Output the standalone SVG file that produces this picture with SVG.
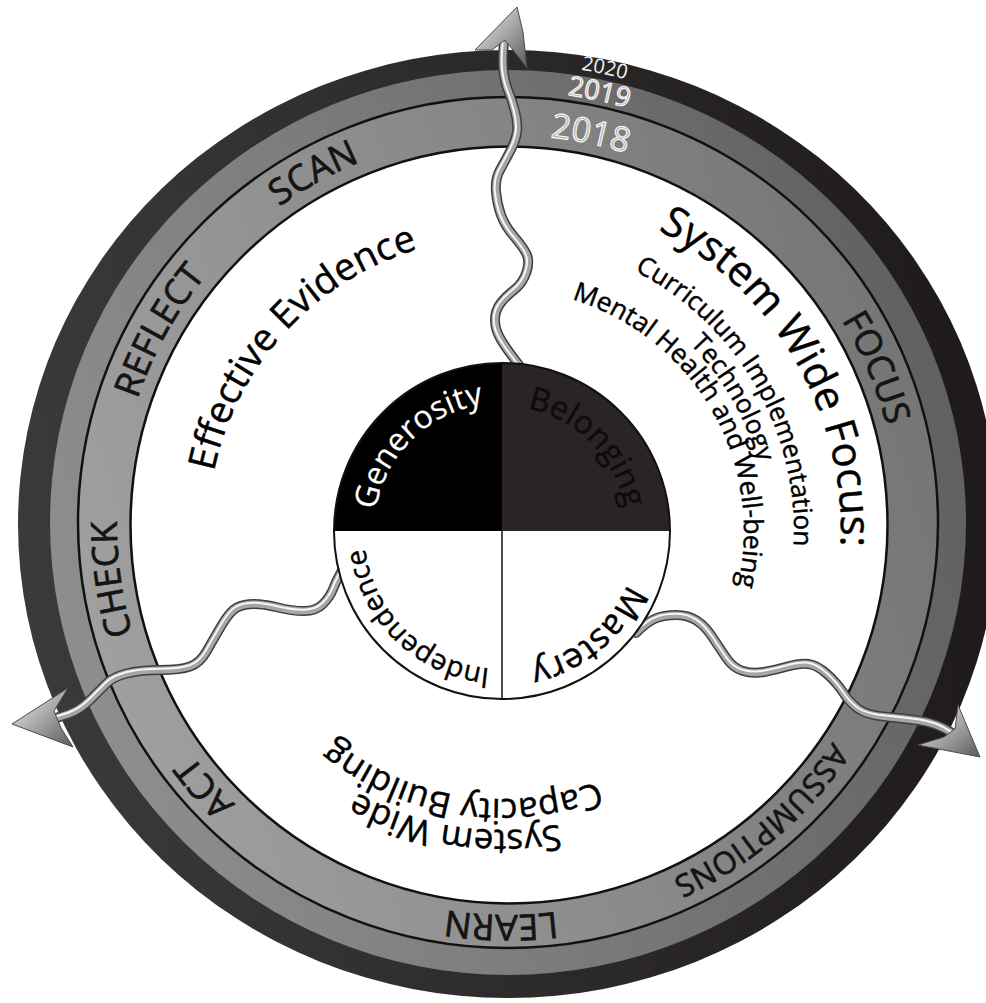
<svg xmlns="http://www.w3.org/2000/svg" width="986" height="1003" viewBox="0 0 986 1003">
<style>
.lbl{font-family:"Open Sans","Liberation Sans",sans-serif;font-size:36px;fill:#141414;stroke:#141414;stroke-width:0.7;text-anchor:middle}
.yr{font-family:"Open Sans","Liberation Sans",sans-serif;text-anchor:middle;fill:#b4b4b4;stroke:#ffffff;stroke-width:1}
.in{font-family:"Open Sans","Liberation Sans",sans-serif;text-anchor:middle;fill:#000;stroke:#000;stroke-width:0.45}
.w1{fill:none;stroke:#3e3e3e;stroke-width:10;stroke-linecap:round;stroke-linejoin:round}
.w2{fill:none;stroke:#a6a6a6;stroke-width:7;stroke-linecap:round;stroke-linejoin:round}
.w3{fill:none;stroke:#f6f6f6;stroke-width:2;stroke-linecap:round;stroke-linejoin:round}
.head{fill:url(#gHead);stroke:#4a4a4a;stroke-width:1;stroke-linejoin:round}
</style>
<defs>
<linearGradient id="gDark" x1="0" y1="0.5" x2="1" y2="0.4">
<stop offset="0" stop-color="#3b3939"/><stop offset="1" stop-color="#1e1a1b"/>
</linearGradient>
<linearGradient id="gMid" x1="0" y1="0.6" x2="1" y2="0.3">
<stop offset="0" stop-color="#8e8e8e"/><stop offset="1" stop-color="#5f5f5f"/>
</linearGradient>
<linearGradient id="gBand" x1="0" y1="0.6" x2="1" y2="0.3">
<stop offset="0" stop-color="#a0a0a0"/><stop offset="1" stop-color="#747474"/>
</linearGradient>
<linearGradient id="gHead" x1="0" y1="0" x2="1" y2="1">
<stop offset="0" stop-color="#f4f4f4"/><stop offset="0.5" stop-color="#a8a8a8"/><stop offset="1" stop-color="#5a5a5a"/>
</linearGradient>
<path id="pRing" d="M508,133 A391,391 0 1 1 508,915 A391,391 0 1 1 508,133"/>
<path id="p2018" d="M508,135 A389,389 0 1 1 508,913 A389,389 0 1 1 508,135"/>
<path id="p2019" d="M508,91 A433,433 0 1 1 508,957 A433,433 0 1 1 508,91"/>
<path id="p2020" d="M508,64 A460,460 0 1 1 508,984 A460,460 0 1 1 508,64"/>
<path id="pEff" d="M502,237 A294,294 0 1 1 502,825 A294,294 0 1 1 502,237"/>
<path id="pSWF" d="M502,192 A339,339 0 1 1 502,870 A339,339 0 1 1 502,192"/>
<path id="pCur" d="M502,239 A292,292 0 1 1 502,823 A292,292 0 1 1 502,239"/>
<path id="pTec" d="M502,266 A265,265 0 1 1 502,796 A265,265 0 1 1 502,266"/>
<path id="pMen" d="M502,289 A242,242 0 1 1 502,773 A242,242 0 1 1 502,289"/>
<path id="pSW" d="M502,232 A299,299 0 1 1 502,830 A299,299 0 1 1 502,232"/>
<path id="pCap" d="M502,263 A268,268 0 1 1 502,799 A268,268 0 1 1 502,263"/>
<path id="pGen" d="M502,403 A128,128 0 1 1 502,659 A128,128 0 1 1 502,403"/>
<path id="pBel" d="M502,406 A125,125 0 1 1 502,656 A125,125 0 1 1 502,406"/>
<path id="pMas" d="M502,395 A136,136 0 1 1 502,667 A136,136 0 1 1 502,395"/>
<path id="pInd" d="M502,393 A138,138 0 1 1 502,669 A138,138 0 1 1 502,393"/>
<path id="wTop" d="M519,365 Q505,347 500,338 Q495,329 495,320 Q495,311 500,304 Q505,297 514,290 Q523,283 526.5,272 Q530,261 526.5,254 Q523,247 514,236.5 Q505,226 501,215 Q497,204 496,191.5 Q495,179 500,170 Q505,161 510.5,150.5 Q516,140 517,131.5 Q518,123 515,111.5 Q512,100 508.5,91.5 Q505,83 503.5,71.5 Q502,60 504,42"/>
<path id="wLeft" d="M344,567 Q337,579 333.5,588 Q330,597 323,604 Q316,611 304,611 Q292,611 278,607.5 Q264,604 254,604 Q244,604 237,607.5 Q230,611 221.5,625.5 Q213,640 206.5,651.5 Q200,663 190,666.5 Q180,670 160,670 Q140,670 126.5,673.5 Q113,677 106.5,683.5 Q100,690 90,700 Q80,710 68.5,714 Q57,718 42,722"/>
<path id="wRight" d="M636,633 Q647,622 655.5,618.5 Q664,615 676,615 Q688,615 696.5,620.5 Q705,626 712,636.5 Q719,647 726,657.5 Q733,668 743,671 Q753,674 764,672 Q775,670 787.5,666.5 Q800,663 808.5,664 Q817,665 827,674 Q837,683 843.5,693 Q850,703 858.5,709 Q867,715 883.5,716.5 Q900,718 918.5,720.5 Q937,723 952,733"/>
</defs>

<rect width="986" height="1003" fill="#ffffff"/>

<g id="rings">
<ellipse cx="508" cy="524" rx="490" ry="474" fill="url(#gDark)"/>
<ellipse cx="508" cy="522.5" rx="458" ry="452.5" fill="url(#gMid)"/>
<ellipse cx="508" cy="522.5" rx="430" ry="425.5" fill="url(#gBand)" stroke="#111" stroke-width="2.5"/>
<circle cx="509" cy="525" r="378.5" fill="#ffffff" stroke="#111" stroke-width="2.5"/>
</g>

<g id="years">
<text class="yr" font-size="20" style="fill:#f4f4f4;stroke:none"><textPath href="#p2020" startOffset="3.33%">2020</textPath></text>
<text class="yr" font-size="27"><textPath href="#p2019" startOffset="3.33%">2019</textPath></text>
<text class="yr" font-size="34"><textPath href="#p2018" startOffset="3.33%">2018</textPath></text>
</g>

<g id="ring-labels">
<text class="lbl"><textPath href="#pRing" startOffset="18.61%">FOCUS</textPath></text>
<text class="lbl" style="font-size:31px"><textPath href="#pRing" startOffset="38.75%">ASSUMPTIONS</textPath></text>
<text class="lbl"><textPath href="#pRing" startOffset="50.28%">LEARN</textPath></text>
<text class="lbl"><textPath href="#pRing" startOffset="63.61%">ACT</textPath></text>
<text class="lbl"><textPath href="#pRing" startOffset="72.78%">CHECK</textPath></text>
<text class="lbl"><textPath href="#pRing" startOffset="83.06%">REFLECT</textPath></text>
<text class="lbl"><textPath href="#pRing" startOffset="91.94%">SCAN</textPath></text>
</g>

<g id="effective-evidence">
<text class="in" font-size="38"><textPath href="#pEff" startOffset="86.81%">Effective Evidence</textPath></text>
</g>

<g id="system-wide-focus">
<text class="in" font-size="42"><textPath href="#pSWF" startOffset="16.67%">System Wide Focus:</textPath></text>
<text class="in" font-size="26"><textPath href="#pCur" startOffset="16.67%">Curriculum Implementation</textPath></text>
<text class="in" font-size="26"><textPath href="#pTec" startOffset="16.67%">Technology</textPath></text>
<text class="in" font-size="26.5"><textPath href="#pMen" startOffset="16.67%">Mental Health and Well-being</textPath></text>
</g>

<g id="capacity-building">
<text class="in" font-size="35"><textPath href="#pSW" startOffset="52.5%">System Wide</textPath></text>
<text class="in" font-size="35"><textPath href="#pCap" startOffset="52.5%">Capacity Building</textPath></text>
</g>

<g id="connectors">
<g id="wire-top">
<use href="#wTop" class="w1"/>
<use href="#wTop" class="w2"/>
<use href="#wTop" class="w3" transform="translate(-1.2,-0.6)"/>
<polygon class="head" points="517,7 475,50 492,50 505,40 513,50 527,68 523,32"/>
</g>
<g id="wire-left">
<use href="#wLeft" class="w1"/>
<use href="#wLeft" class="w2"/>
<use href="#wLeft" class="w3" transform="translate(-0.6,-1.2)"/>
<polygon class="head" points="12,724 68,688 54,711 61,728 73,747"/>
</g>
<g id="wire-right">
<use href="#wRight" class="w1"/>
<use href="#wRight" class="w2"/>
<use href="#wRight" class="w3" transform="translate(-0.6,-1.2)"/>
<polygon class="head" points="980,757 958,705 955,729 944,737 918,745"/>
</g>
</g>

<g id="core">
<circle cx="502" cy="531" r="168" fill="#ffffff"/>
<path d="M502,531 L334,531 A168,168 0 0 1 502,363 Z" fill="#000"/>
<path d="M502,531 L502,363 A168,168 0 0 1 670,531 Z" fill="#2a2426"/>
<line x1="502" y1="531" x2="502" y2="699" stroke="#111" stroke-width="1.5"/>
<circle cx="502" cy="531" r="168" fill="none" stroke="#111" stroke-width="2"/>
</g>

<g id="generosity"><text class="in" font-size="32" style="fill:#fff;stroke:#fff;stroke-width:0.2"><textPath href="#pGen" startOffset="87.64%">Generosity</textPath></text></g>
<g id="belonging"><text class="in" font-size="32" style="fill:#0c0c0c;stroke:#0c0c0c"><textPath href="#pBel" startOffset="12.64%">Belonging</textPath></text></g>
<g id="mastery"><text class="in" font-size="35"><textPath href="#pMas" startOffset="39.03%">Mastery</textPath></text></g>
<g id="independence"><text class="in" font-size="28"><textPath href="#pInd" startOffset="62.2%">Independence</textPath></text></g>
</svg>
